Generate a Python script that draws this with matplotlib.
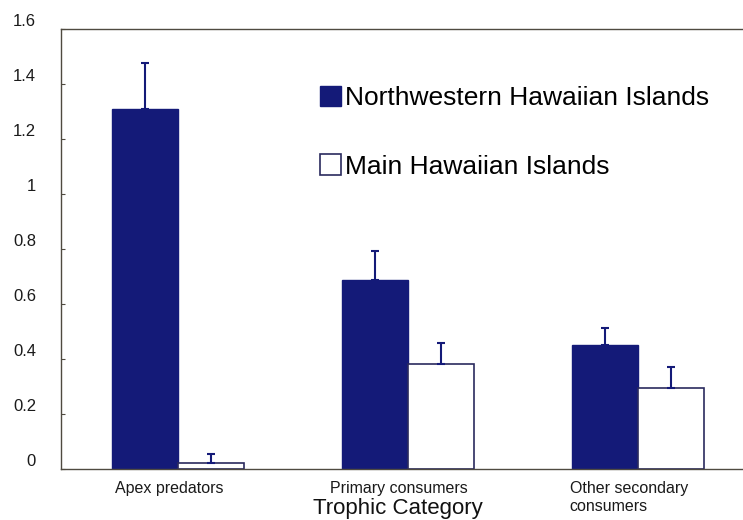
import numpy as np
import matplotlib
matplotlib.use('Agg')
import matplotlib.pyplot as plt
from matplotlib.transforms import ScaledTranslation

#%% data
categories = ['Apex predators', 'Primary consumers', 'Other secondary\nconsumers']
nwhi = [1.31, 0.686, 0.45]
nwhi_err = [0.165, 0.105, 0.062]
mhi = [0.022, 0.381, 0.294]
mhi_err = [0.032, 0.076, 0.076]
yticks = [0, 0.2, 0.4, 0.6, 0.8, 1, 1.2, 1.4, 1.6]
ytick_labels = ['0', '0.2', '0.4', '0.6', '0.8', '1', '1.2', '1.4', '1.6']

navy = '#141a78'
axis_col = '#4f4a40'

plt.rcParams['font.family'] = ['Liberation Sans', 'DejaVu Sans']

fig = plt.figure(figsize=(7.43, 5.2), dpi=100)
ax = fig.add_axes([61/743, 1-469/520, 1-61/743, 440/520])

x = np.arange(len(categories))
w = 0.287
b1 = ax.bar(x - w/2, nwhi, w, color=navy, edgecolor=navy, lw=1,
            label='Northwestern Hawaiian Islands')
b2 = ax.bar(x + w/2, mhi, w, color='white', edgecolor='#2a2a5e', lw=1.2,
            label='Main Hawaiian Islands')
ax.errorbar(x - w/2, nwhi, yerr=[np.zeros(3), nwhi_err], fmt='none',
            ecolor=navy, elinewidth=1.5, capsize=3, capthick=1.5)
ax.errorbar(x + w/2, mhi, yerr=[np.zeros(3), mhi_err], fmt='none',
            ecolor=navy, elinewidth=1.5, capsize=3, capthick=1.5)

ax.set_ylim(0, 1.6)
ax.set_xlim(-0.5087, 2.457)
ax.set_yticks(yticks)
ax.set_yticklabels(ytick_labels, fontsize=12, color='#1a1a1a')
ax.tick_params(axis='y', direction='in', length=3, pad=18, color=axis_col)
ax.set_xticks(x)
ax.set_xticklabels(categories, fontsize=11.5, color='#1a1a1a')
ax.tick_params(axis='x', length=0, pad=9)
for lab in ax.get_xticklabels():
    lab.set_multialignment('left')

# the scanned labels sit a bit off their ticks
for t in ax.yaxis.get_major_ticks():
    t.label1.set_transform(t.label1.get_transform() +
                           ScaledTranslation(0, 0.09, fig.dpi_scale_trans))
for t in ax.xaxis.get_major_ticks():
    t.label1.set_transform(t.label1.get_transform() +
                           ScaledTranslation(-0.09, 0, fig.dpi_scale_trans))

ax.set_xlabel('Trophic Category', fontsize=16, color='#111111')
ax.xaxis.set_label_coords((398-61)/682, -0.066)

for s in ['left', 'bottom', 'top']:
    ax.spines[s].set_color(axis_col)
    ax.spines[s].set_linewidth(1)
ax.spines['right'].set_visible(False)

ax.legend(handles=[b1, b2], loc='upper left',
          bbox_to_anchor=(320/743, 1-86/520), bbox_transform=fig.transFigure,
          frameon=False, fontsize=19, handlelength=0.8, handleheight=0.8,
          handletextpad=0.15, labelspacing=1.67, borderpad=0, borderaxespad=0)

fig.savefig('out.png', dpi=100)
